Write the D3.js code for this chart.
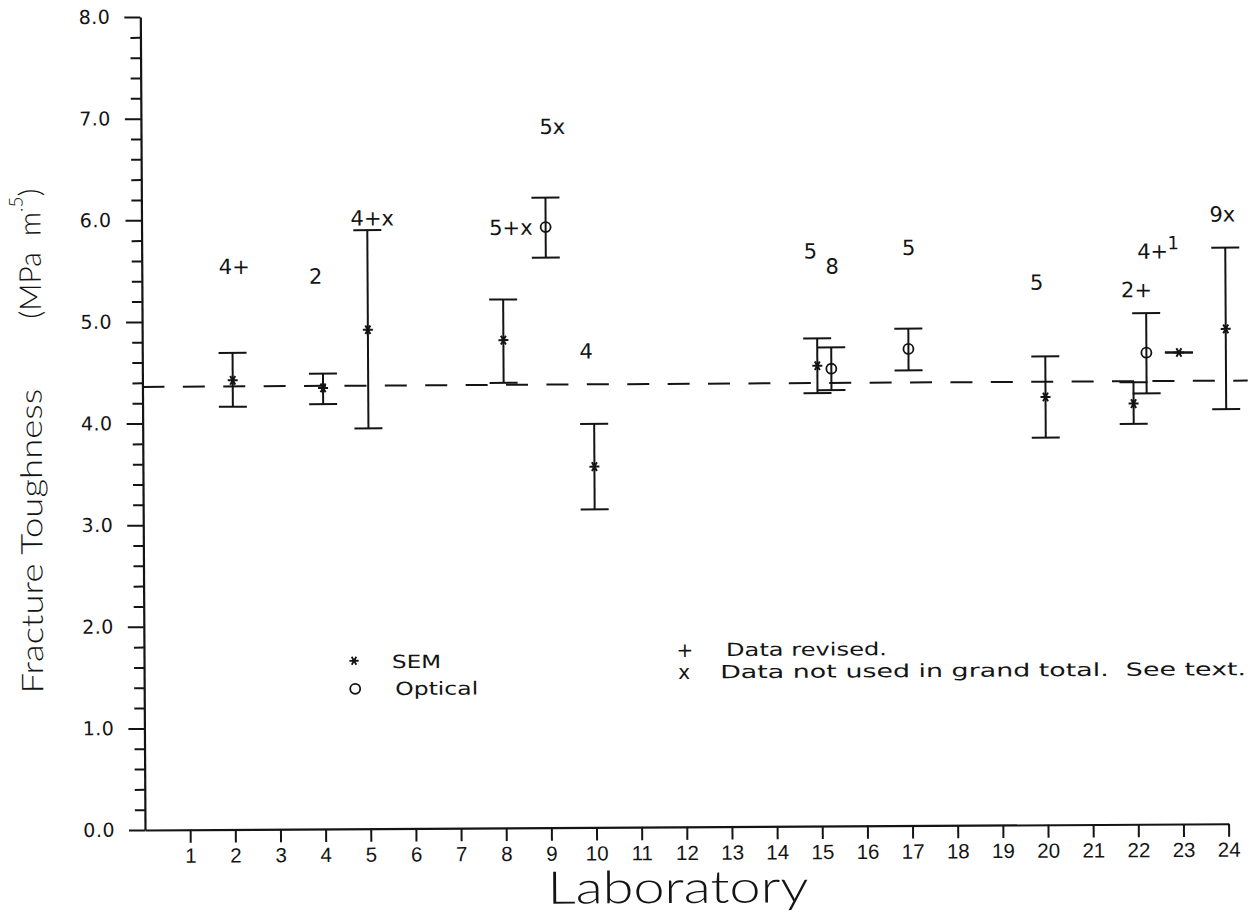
<!DOCTYPE html>
<html><head><meta charset="utf-8">
<script src="https://cdn.jsdelivr.net/npm/d3@7"></script>
<style>
html,body{margin:0;padding:0;background:#fff;}
svg{display:block;}
</style></head><body>
<svg id="chart" width="1260" height="916"></svg>
<script>
// ---------- data ----------
const labTicks = [1,2,3,4,5,6,7,8,9,10,11,12,13,14,15,16,17,18,19,20,21,22,23,24];
const yMajorTicks = [0,1,2,3,4,5,6,7,8];

// SEM measurements (asterisk markers)
const semX    = [2, 4, 5, 8, 10, 14.95, 20, 21.95, 22.96, 24];
const semMean = [4.42, 4.34, 4.91, 4.80, 3.55, 4.53, 4.21, 4.14, 4.64, 4.87];
const semLow  = [4.16, 4.18, 3.94, 4.38, 3.13, 4.26, 3.81, 3.94, 4.64, 4.08];
const semHigh = [4.69, 4.48, 5.89, 5.20, 3.97, 4.80, 4.61, 4.35, 4.64, 5.67];

// Optical measurements (circle markers)
const optX    = [8.95, 15.26, 16.97, 22.24];
const optMean = [5.91, 4.50, 4.69, 4.64];
const optLow  = [5.61, 4.29, 4.48, 4.24];
const optHigh = [6.20, 4.71, 4.89, 5.03];

// grand mean (dashed line)
const grandMean = 4.36;

// annotations (number of specimens and flags)
const noteText = ["4+", "2", "4+x", "5+x", "5x", "4", "5", "8", "5", "5", "2+", "4+", "9x"];
const noteX    = [2.05, 3.85, 5.11, 8.18, 9.11, 9.83, 14.81, 15.29, 16.99, 19.82, 22.03, 22.39, 23.94];
const noteY    = [5.54, 5.44, 6.01, 5.91, 6.90, 4.69, 5.66, 5.51, 5.69, 5.34, 5.26, 5.64, 6.00];
const supText  = ["1"];
const supX     = [22.85];
const supY     = [5.72];

// legend
const legendMarkers = ["SEM", "Optical"];
const legendFlags   = ["+", "x"];
const legendFlagText = ["Data revised.", "Data not used in grand total.  See text."];

// ---------- drawing ----------
const svg = d3.select("#chart");
const ink = "#141414";
const plotFont = "'DejaVu Sans', 'Liberation Sans', sans-serif";
const tickFont = "'Liberation Sans', Arial, sans-serif";
const titleFont = "Lato, Roboto, 'Open Sans', sans-serif";

const x = d3.scaleLinear().domain([0, 24]).range([145, 1228.6]);
const y = d3.scaleLinear().domain([0, 8]).range([830, 17]);

// whole scanned page is slightly rotated
const g = svg.append("g").attr("transform", "rotate(-0.33,145,830)");

// x axis
const xAxis = g.append("g").attr("transform", `translate(0,${y(0)})`)
  .call(d3.axisBottom(x).tickValues(labTicks).tickSize(13).tickSizeOuter(0).tickPadding(4));
xAxis.select(".domain").attr("stroke", ink).attr("stroke-width", 2.2);
xAxis.selectAll(".tick line").attr("stroke", ink).attr("stroke-width", 2);
xAxis.selectAll(".tick text").attr("fill", ink).attr("font-family", tickFont)
  .attr("font-size", 20.5).attr("y", 33).attr("dy", 0);

// y axis: major + minor
const yAxis = g.append("g").attr("transform", `translate(${x(0)},0)`)
  .call(d3.axisLeft(y).tickValues(yMajorTicks).tickSize(16).tickSizeOuter(0)
        .tickPadding(14).tickFormat(d3.format(".1f")));
yAxis.select(".domain").attr("stroke", ink).attr("stroke-width", 2.2);
yAxis.selectAll(".tick line").attr("stroke", ink).attr("stroke-width", 2);
yAxis.selectAll(".tick text").attr("fill", ink).attr("font-family", plotFont)
  .attr("font-size", 19).attr("letter-spacing", 0.5);

const minorTicks = d3.range(0, 40).map(i => i / 5).filter(v => Math.abs(v - Math.round(v)) > 1e-6);
const yMinor = g.append("g").attr("transform", `translate(${x(0)},0)`)
  .call(d3.axisLeft(y).tickValues(minorTicks).tickSize(10).tickFormat(""));
yMinor.select(".domain").remove();
yMinor.selectAll(".tick line").attr("stroke", ink).attr("stroke-width", 2);

// grand mean dashed line
g.append("line")
  .attr("x1", x(0)).attr("x2", x(24.48))
  .attr("y1", y(grandMean)).attr("y2", y(grandMean))
  .attr("stroke", ink).attr("stroke-width", 2).attr("stroke-dasharray", "22,18.4");

// error bars
const capHalf = 14;
function errorBars(xs, lows, highs, cls) {
  const data = xs.map((v, i) => ({x: v, lo: lows[i], hi: highs[i]}));
  const eb = g.append("g").attr("class", cls).attr("stroke", ink).attr("stroke-width", 2);
  eb.selectAll("line.v").data(data).join("line").attr("class", "v")
    .attr("x1", d => x(d.x)).attr("x2", d => x(d.x))
    .attr("y1", d => y(d.lo)).attr("y2", d => y(d.hi));
  eb.selectAll("line.hi").data(data).join("line").attr("class", "hi")
    .attr("x1", d => x(d.x) - capHalf).attr("x2", d => x(d.x) + capHalf)
    .attr("y1", d => y(d.hi)).attr("y2", d => y(d.hi));
  eb.selectAll("line.lo").data(data).join("line").attr("class", "lo")
    .attr("x1", d => x(d.x) - capHalf).attr("x2", d => x(d.x) + capHalf)
    .attr("y1", d => y(d.lo)).attr("y2", d => y(d.lo));
}
errorBars(semX, semLow, semHigh, "sem-bars");
errorBars(optX, optLow, optHigh, "opt-bars");

// SEM markers (asterisk)
const asterisk = d3.symbol().type(d3.symbolAsterisk).size(70);
g.append("g").selectAll("path").data(semX.map((v, i) => ({x: v, m: semMean[i]}))).join("path")
  .attr("transform", d => `translate(${x(d.x)},${y(d.m)}) rotate(90)`)
  .attr("d", asterisk).attr("fill", "none").attr("stroke", ink).attr("stroke-width", 2);

// Optical markers (circle)
g.append("g").selectAll("circle").data(optX.map((v, i) => ({x: v, m: optMean[i]}))).join("circle")
  .attr("cx", d => x(d.x)).attr("cy", d => y(d.m)).attr("r", 5)
  .attr("fill", "none").attr("stroke", ink).attr("stroke-width", 1.8);

// annotations
g.append("g").selectAll("text").data(noteText.map((t, i) => ({t, x: noteX[i], y: noteY[i]}))).join("text")
  .attr("x", d => x(d.x)).attr("y", d => y(d.y)).attr("dy", "0.36em")
  .attr("text-anchor", "middle").attr("font-family", plotFont).attr("font-size", 21)
  .attr("fill", ink).text(d => d.t);
g.append("g").selectAll("text").data(supText.map((t, i) => ({t, x: supX[i], y: supY[i]}))).join("text")
  .attr("x", d => x(d.x)).attr("y", d => y(d.y)).attr("dy", "0.36em")
  .attr("text-anchor", "middle").attr("font-family", plotFont).attr("font-size", 18)
  .attr("fill", ink).text(d => d.t);

// legend: markers
const lg = g.append("g").attr("fill", ink);
lg.append("path").attr("transform", "translate(355,662) rotate(90)")
  .attr("d", d3.symbol().type(d3.symbolAsterisk).size(60)).attr("fill", "none")
  .attr("stroke", ink).attr("stroke-width", 1.8);
lg.append("circle").attr("cx", 356).attr("cy", 690).attr("r", 5)
  .attr("fill", "none").attr("stroke", ink).attr("stroke-width", 1.8);
const markerLens = [49, 83];
const markerStarts = [393, 396];
const markerYs = [663, 690];
lg.selectAll("text.mk").data(legendMarkers).join("text").attr("class", "mk")
  .attr("x", (d, i) => markerStarts[i]).attr("y", (d, i) => markerYs[i]).attr("dy", "0.36em")
  .attr("font-family", plotFont).attr("font-size", 18)
  .attr("textLength", (d, i) => markerLens[i]).attr("lengthAdjust", "spacingAndGlyphs")
  .text(d => d);

// legend: flags
const flagYs = [653, 675];
const flagSymX = [686, 685];
const flagTextX = [727, 721];
const flagLens = [161, 526];
lg.selectAll("text.fs").data(legendFlags).join("text").attr("class", "fs")
  .attr("x", (d, i) => flagSymX[i]).attr("y", (d, i) => flagYs[i]).attr("dy", "0.36em")
  .attr("text-anchor", "middle").attr("font-family", plotFont).attr("font-size", 20)
  .text(d => d);
lg.selectAll("text.ft").data(legendFlagText).join("text").attr("class", "ft")
  .attr("x", (d, i) => flagTextX[i]).attr("y", (d, i) => flagYs[i]).attr("dy", "0.36em")
  .attr("font-family", plotFont).attr("font-size", 18)
  .attr("textLength", (d, i) => flagLens[i]).attr("lengthAdjust", "spacingAndGlyphs")
  .style("white-space", "pre")
  .text(d => d);

// axis titles
g.append("text").attr("x", 547).attr("y", 906)
  .attr("font-family", titleFont).attr("font-weight", 300).attr("font-size", 45)
  .attr("textLength", 261).attr("lengthAdjust", "spacingAndGlyphs")
  .attr("fill", ink).text("Laboratory");

g.append("text").attr("transform", "translate(44,693) rotate(-90)")
  .attr("font-family", titleFont).attr("font-weight", 300).attr("font-size", 30)
  .attr("textLength", 305).attr("lengthAdjust", "spacingAndGlyphs")
  .attr("fill", ink).text("Fracture Toughness");

const unit = g.append("text").attr("transform", "translate(44,318) rotate(-90)")
  .attr("font-family", titleFont).attr("font-weight", 300).attr("font-size", 30)
  .attr("fill", ink).style("white-space", "pre");
unit.append("tspan").text("(MPa  m");
unit.append("tspan").attr("dy", -18).attr("font-size", 19).text(".5");
unit.append("tspan").attr("dy", 18).text(")");
</script>
</body></html>
